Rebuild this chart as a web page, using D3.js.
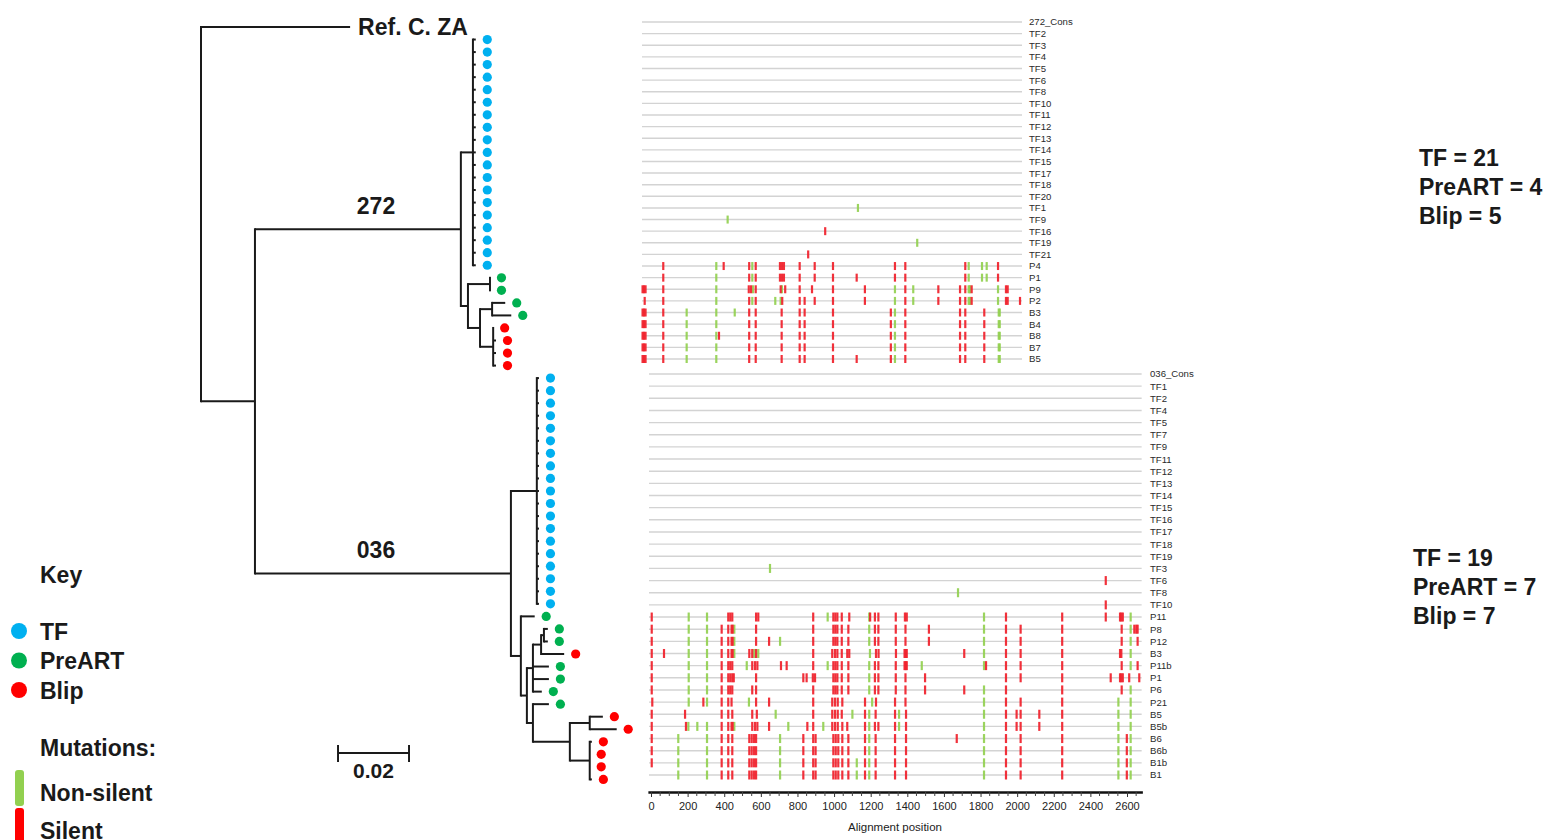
<!DOCTYPE html>
<html><head><meta charset="utf-8">
<script src="https://cdn.jsdelivr.net/npm/d3@7"></script>
<style>
body{margin:0;background:#fff}
svg{display:block}
text{font-family:Arial,"Liberation Sans",sans-serif}
</style>
</head><body>
<svg id="c" width="1548" height="840"></svg>
<script>
// ---------------- DATA ----------------
const topRows = ["272_Cons","TF2","TF3","TF4","TF5","TF6","TF8","TF10","TF11","TF12","TF13","TF14","TF15","TF17","TF18","TF20","TF1","TF9","TF16","TF19","TF21","P4","P1","P9","P2","B3","B4","B8","B7","B5"];
const topNonSilent = {
  TF1:[1523], TF9:[604], TF19:[1941],
  P4:[524,778,2304,2398,2431],
  P1:[524,778,2304,2398,2431],
  P9:[524,783,987,1784,1913,2304,2313,2511],
  P2:[524,778,940,978,1784,1913,2304,2313,2511],
  B3:[315,524,654,1784,2516,2523],
  B4:[315,524,1784,2516,2523],
  B8:[315,524,1784,2516,2523],
  B7:[315,524,1784,2516,2523],
  B5:[315,524,1784,2516,2523]
};
const topSilent = {
  TF16:[1292], TF21:[1172],
  P4:[150,576,756,802,973,987,1001,1112,1218,1347,1784,1857,2280,2511],
  P1:[150,756,802,973,987,1001,1112,1218,1347,1514,1784,1857,2280,2511],
  P9:[4,14,25,150,753,769,802,978,1010,1112,1199,1347,1572,1857,2090,2243,2280,2325,2567,2579],
  P2:[19,150,756,802,989,1112,1147,1218,1347,1572,1857,2090,2243,2280,2325,2567,2579,2666],
  B3:[4,14,25,150,756,802,985,1112,1147,1347,1755,1857,2243,2280,2414],
  B4:[4,14,25,150,756,802,985,1112,1147,1347,1755,1857,2243,2280,2414],
  B8:[4,14,25,150,543,756,802,985,1112,1147,1347,1755,1857,2243,2280,2414],
  B7:[4,14,25,150,756,802,985,1112,1147,1347,1755,1857,2243,2280,2414],
  B5:[4,14,25,150,756,802,985,1112,1147,1347,1514,1755,1857,2243,2280,2414]
};

const bottomRows = ["036_Cons","TF1","TF2","TF4","TF5","TF7","TF9","TF11","TF12","TF13","TF14","TF15","TF16","TF17","TF18","TF19","TF3","TF6","TF8","TF10","P11","P8","P12","B3","P11b","P1","P6","P21","B5","B5b","B6","B6b","B1b","B1"];
const bottomNonSilent = {
  TF3:[650], TF8:[1677],
  P11:[206,306,965,1192,1819,2620],
  P8:[206,306,455,1192,1819,2620],
  P12:[206,306,455,705,1192,1819,2620],
  B3:[206,306,455,564,586,1196,1819,2620],
  P11b:[206,306,523,965,1192,1479,1819,2620],
  P1:[206,306,1192],
  P6:[206,306,1192,1819,2620],
  P21:[206,306,535,1208,1819,2553,2620],
  B5:[681,1100,1192,1355,1819,2553,2620],
  B5b:[204,253,306,455,750,941,1192,1355,1819,2553,2620],
  B6:[149,306,705,1192,1819,2553,2620],
  B6b:[149,306,705,1192,1819,2553,2620],
  B1b:[149,306,705,1124,1192,1819,2553,2620],
  B1:[149,306,705,1124,1192,1819,2553,2620]
};
const bottomSilent = {
  TF6:[2484], TF10:[2484],
  P11:[4,422,433,444,574,586,886,996,1007,1018,1042,1083,1197,1223,1242,1337,1387,1397,1939,2246,2484,2562,2569,2577],
  P8:[4,386,422,440,446,574,886,996,1007,1018,1042,1078,1223,1242,1337,1390,1518,1939,2019,2246,2571,2640,2651,2658],
  P12:[4,386,422,440,446,574,645,886,996,1007,1018,1042,1078,1223,1242,1337,1390,1518,1939,2019,2246,2571,2658],
  B3:[4,71,386,422,440,446,537,553,574,886,990,1005,1018,1042,1072,1083,1229,1243,1338,1385,1391,1397,1711,1939,2019,2246,2562,2569],
  P11b:[4,386,422,433,444,553,568,581,710,741,886,996,1007,1018,1042,1078,1223,1242,1337,1385,1391,1397,1830,1939,2019,2246,2571,2658],
  P1:[4,386,422,433,444,452,574,832,850,884,896,996,1007,1018,1042,1078,1223,1242,1337,1390,1497,1939,2019,2246,2511,2562,2569,2577,2612,2667],
  P6:[4,386,422,433,444,553,574,886,996,1007,1018,1042,1078,1223,1242,1337,1390,1497,1711,1939,2246,2571],
  P21:[7,286,386,422,440,574,645,886,990,1005,1020,1045,1169,1229,1333,1390,1939,2019,2246],
  B5:[4,186,386,422,444,553,578,886,990,1005,1020,1042,1169,1227,1333,1393,1939,1997,2019,2121,2246],
  B5b:[4,191,386,422,440,446,553,568,581,645,854,886,990,1005,1020,1045,1072,1169,1223,1242,1333,1393,1939,1997,2019,2121,2246],
  B6:[4,386,422,444,537,550,563,574,832,886,899,996,1009,1023,1045,1078,1169,1227,1333,1393,1670,1939,2019,2246,2599],
  B6b:[4,386,422,444,537,550,563,574,832,886,899,996,1009,1023,1045,1078,1169,1227,1333,1393,1939,2019,2246,2599],
  B1b:[4,386,422,444,537,550,563,574,832,886,899,996,1009,1023,1045,1078,1169,1227,1333,1393,1939,2019,2246,2599],
  B1:[386,422,444,537,550,563,574,832,886,899,996,1009,1023,1045,1078,1169,1227,1333,1393,1939,2019,2246,2599]
};
const axisTicks = [0,200,400,600,800,1000,1200,1400,1600,1800,2000,2200,2400,2600];
const minorTicks = [50,100,150,250,300,350,450,500,550,650,700,750,850,900,950,1050,1100,1150,1250,1300,1350,1450,1500,1550,1650,1700,1750,1850,1900,1950,2050,2100,2150,2250,2300,2350,2450,2500,2550,2650];

// tree: branch lengths (substitutions/site)
const tf272TipLens = [0.0008,0.0008,0.0008,0.0008,0.0008,0.0008,0.0008,0.0008,0.0008,0.0008,0.0008,0.0008,0.0008,0.0008,0.0008,0.0008,0.0008,0.0008,0.0008];
const tf036TipLens = [0.0006,0.0006,0.0006,0.0006,0.0006,0.0006,0.0006,0.0006,0.0006,0.0006,0.0006,0.0006,0.0006,0.0006,0.0006,0.0006,0.0006,0.0006,0.0006];
function N(len, ...children){ return {len, children}; }
function T(group, len){ return {group, len}; }
const treeData = N(0,
  {name:"Ref. C. ZA", len:0.0420},
  N(0.0152,
    Object.assign(N(0.0580,
      N(0.0034, ...tf272TipLens.map(l => T("TF", l))),
      N(0.0020,
        N(0.0062, T("PreART",0), T("PreART",0)),
        N(0.0034,
          N(0.0034, T("PreART",0.0037), T("PreART",0.0054)),
          N(0.0037, T("Blip",0), T("Blip",0.0008), T("Blip",0.0008), T("Blip",0.0008))))), {clade:"272"}),
    Object.assign(N(0.0721,
      N(0.0073, ...tf036TipLens.map(l => T("TF", l))),
      N(0.0028,
        T("PreART",0.0039),
        N(0.0017,
          N(0.0017,
            N(0.0023,
              N(0.0008, T("PreART",0.0011), T("PreART",0.0011)),
              T("Blip",0.0065)),
            T("PreART",0.0045), T("PreART",0.0045), T("PreART",0.0025)),
          N(0.0017,
            T("PreART",0.0045),
            N(0.0104,
              N(0.0056, T("Blip",0.0037), T("Blip",0.0076)),
              N(0.0056, T("Blip",0.0006), T("Blip",0), T("Blip",0), T("Blip",0.0006))))))), {clade:"036"})
  ));
const keyGroups = ["TF","PreART","Blip"];
const groupColor = {TF:"#00b0f0", PreART:"#00b050", Blip:"#ff0000"};
const mutationTypes = ["Non-silent","Silent"];
const mutColor = {"Non-silent":"#92d050","Silent":"#ff0000"};
const counts272 = ["TF = 21","PreART = 4","Blip = 5"];
const counts036 = ["TF = 19","PreART = 7","Blip = 7"];
const scaleBarValue = 0.02;

// ---------------- DRAW ----------------
const svg = d3.select("#c");
const INK = "#1a1a1a";

// ---- tree ----
const treeX = d3.scaleLinear().domain([0, 0.1]).range([201, 556]);
const root = d3.hierarchy(treeData);
root.eachBefore(d => { d.dist = (d.parent ? d.parent.dist : 0) + d.data.len; });
const leaves = root.leaves();
const leafY = d3.scaleLinear().domain([0, leaves.length - 1]).range([27, 779.4]);
leaves.forEach((l, i) => l.y = leafY(i));
root.eachAfter(d => { if (d.children) d.y = (d.children[0].y + d.children[d.children.length - 1].y) / 2; });

const gt = svg.append("g").attr("stroke", INK).attr("stroke-width", 2).attr("fill", "none");
root.descendants().forEach(d => {
  if (d.parent) gt.append("line").attr("x1", treeX(d.parent.dist)).attr("x2", treeX(d.dist)).attr("y1", d.y).attr("y2", d.y);
  if (d.children) gt.append("line").attr("x1", treeX(d.dist)).attr("x2", treeX(d.dist))
      .attr("y1", d.children[0].y - 1).attr("y2", d.children[d.children.length - 1].y + 1);
});
leaves.forEach(l => {
  if (l.data.group) {
    svg.append("circle").attr("cx", treeX(l.dist) + 11.5).attr("cy", l.y).attr("r", 4.6).attr("fill", groupColor[l.data.group]);
  } else if (l.data.name) {
    svg.append("text").attr("x", treeX(l.dist) + 8).attr("y", l.y + 8).attr("font-size", 23).attr("font-weight", "bold")
      .attr("fill", INK).text(l.data.name);
  }
});
root.descendants().filter(d => d.data.clade).forEach(d => {
  svg.append("text").attr("x", treeX(0.0493)).attr("y", d.y - 15.5).attr("text-anchor", "middle")
    .attr("font-size", 23).attr("font-weight", "bold").attr("fill", INK).text(d.data.clade);
});
// scale bar
const sb0 = treeX(0.0386), sb1 = treeX(0.0386 + scaleBarValue);
const gs = svg.append("g").attr("stroke", INK).attr("stroke-width", 2);
gs.append("line").attr("x1", sb0).attr("x2", sb1).attr("y1", 753).attr("y2", 753);
gs.append("line").attr("x1", sb0).attr("x2", sb0).attr("y1", 745).attr("y2", 762);
gs.append("line").attr("x1", sb1).attr("x2", sb1).attr("y1", 745).attr("y2", 762);
svg.append("text").attr("x", (sb0 + sb1) / 2).attr("y", 778).attr("text-anchor", "middle")
  .attr("font-size", 21).attr("font-weight", "bold").attr("fill", INK).text(String(scaleBarValue));

// ---- key ----
svg.append("text").attr("x", 40).attr("y", 583).attr("font-size", 23).attr("font-weight", "bold").attr("fill", INK).text("Key");
const keyY = d3.scalePoint().domain(keyGroups).range([631, 690]);
keyGroups.forEach(g => {
  svg.append("circle").attr("cx", 19).attr("cy", keyY(g)).attr("r", 8).attr("fill", groupColor[g]);
  svg.append("text").attr("x", 40).attr("y", keyY(g) + 8.5).attr("font-size", 23).attr("font-weight", "bold").attr("fill", INK).text(g);
});
svg.append("text").attr("x", 40).attr("y", 756).attr("font-size", 23).attr("font-weight", "bold").attr("fill", INK).text("Mutations:");
const mutY = d3.scalePoint().domain(mutationTypes).range([792, 830]);
mutationTypes.forEach(m => {
  svg.append("rect").attr("x", 15).attr("y", mutY(m) - 22).attr("width", 9).attr("height", 36).attr("rx", 3)
    .attr("fill", mutColor[m]);
  svg.append("text").attr("x", 40).attr("y", mutY(m) + 8.5).attr("font-size", 23).attr("font-weight", "bold").attr("fill", INK).text(m);
});

// ---- counts ----
const cY1 = d3.scalePoint().domain(counts272).range([166, 224]);
counts272.forEach(c => svg.append("text").attr("x", 1419).attr("y", cY1(c)).attr("font-size", 23).attr("font-weight", "bold").attr("fill", INK).text(c));
const cY2 = d3.scalePoint().domain(counts036).range([566, 624]);
counts036.forEach(c => svg.append("text").attr("x", 1413).attr("y", cY2(c)).attr("font-size", 23).attr("font-weight", "bold").attr("fill", INK).text(c));

// ---- highlighter panels ----
function panel(rows, nonSil, sil, xScale, yRange, lineDom, labelX, markH) {
  const y = d3.scalePoint().domain(rows).range(yRange);
  const g = svg.append("g");
  rows.forEach(r => {
    g.append("line").attr("x1", xScale(lineDom[0])).attr("x2", xScale(lineDom[1])).attr("y1", y(r)).attr("y2", y(r))
      .attr("stroke", "#d3d3d3").attr("stroke-width", 1.4);
    g.append("text").attr("x", labelX).attr("y", y(r)).attr("dy", "0.36em").attr("font-size", 9.6).attr("fill", "#2a2a2a").text(r);
  });
  const marks = [];
  Object.entries(nonSil).forEach(([r, arr]) => arr.forEach(p => marks.push({r, p, c: mutColor["Non-silent"]})));
  Object.entries(sil).forEach(([r, arr]) => arr.forEach(p => marks.push({r, p, c: "#f0202a"})));
  g.selectAll("rect.m").data(marks).join("rect").attr("class", "m")
    .attr("x", d => xScale(d.p) - 1.1).attr("y", d => y(d.r) - markH / 2).attr("width", 2.2).attr("height", markH)
    .attr("fill", d => d.c).attr("fill-opacity", 0.92);
  return y;
}
const topX = d3.scaleLinear().domain([0, 2680]).range([642, 1022]);
panel(topRows, topNonSilent, topSilent, topX, [22, 359], [0, 2680], 1029, 8);

const bottomX = d3.scaleLinear().domain([0, 2600]).range([651, 1127]);
panel(bottomRows, bottomNonSilent, bottomSilent, bottomX, [374, 775], [-11, 2680], 1150, 9);

// axis
const axisScale = d3.scaleLinear().domain([-17, 2684]).range([bottomX(-17), bottomX(2684)]);
const ax = svg.append("g").attr("transform", "translate(0,792)")
  .call(d3.axisBottom(axisScale).tickValues(axisTicks).tickSize(5).tickSizeOuter(0).tickFormat(d3.format("d")));
ax.select(".domain").attr("stroke", "#111").attr("stroke-width", 2.4);
ax.selectAll(".tick line").attr("stroke", "#333");
ax.selectAll(".tick text").attr("font-size", 11).attr("fill", "#222").attr("dy", "0.9em").attr("font-family", "Arial,'Liberation Sans',sans-serif");
svg.append("g").selectAll("line").data(minorTicks).join("line")
  .attr("x1", d => axisScale(d)).attr("x2", d => axisScale(d)).attr("y1", 792).attr("y2", 796).attr("stroke", "#444");
svg.append("text").attr("x", 895).attr("y", 831).attr("text-anchor", "middle").attr("font-size", 11.5).attr("fill", "#222").text("Alignment position");
</script>
</body></html>
